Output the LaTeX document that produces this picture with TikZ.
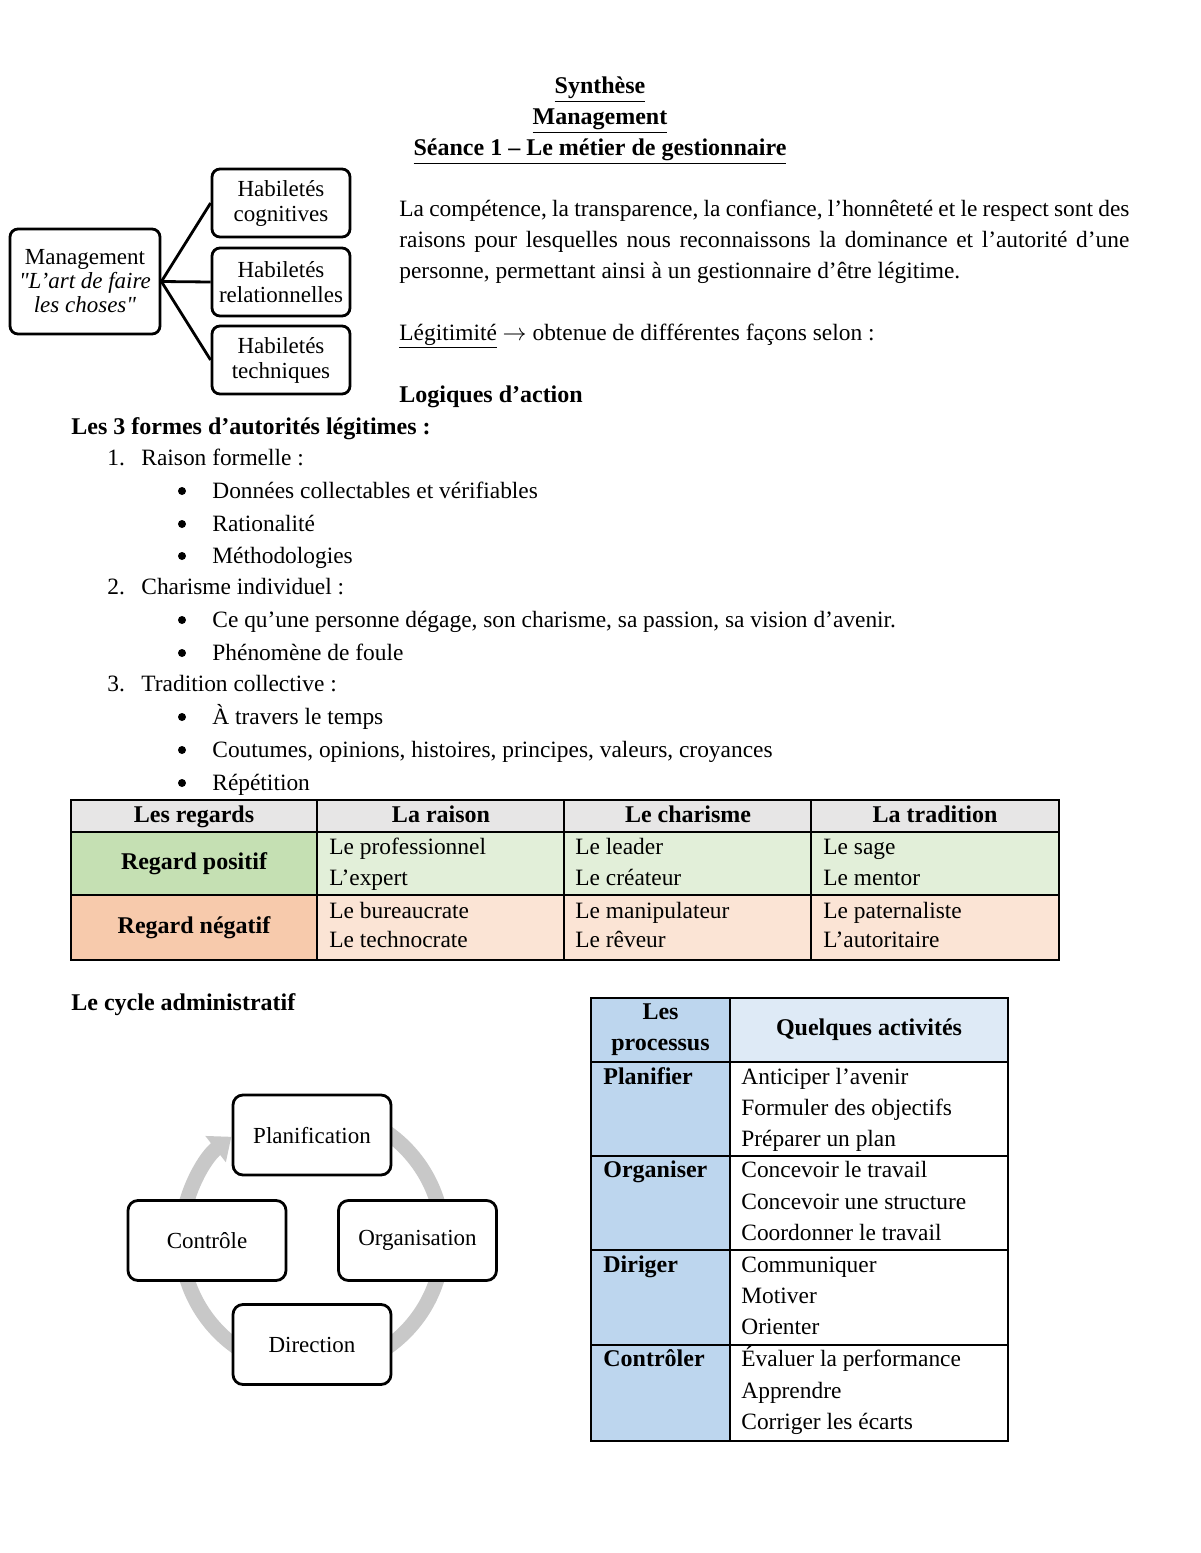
\documentclass[tikz,border=0pt]{standalone}
\usepackage{fontspec}
\setmainfont{Liberation Serif}
\usetikzlibrary{arrows.meta}

\definecolor{hdgray}{HTML}{E7E6E6}
\definecolor{posdark}{HTML}{C5E0B3}
\definecolor{poslight}{HTML}{E2EFD9}
\definecolor{negdark}{HTML}{F7CAAC}
\definecolor{neglight}{HTML}{FBE4D5}
\definecolor{procblue}{HTML}{BDD6EE}
\definecolor{actblue}{HTML}{DEEAF6}
\definecolor{cyclegray}{HTML}{C8C8C8}

\newcommand{\bodyfont}{\fontsize{11.7}{15.5}\selectfont}
\newcommand{\boldfont}{\bfseries\fontsize{12}{15.5}\selectfont}

\tikzset{
  txt/.style={anchor=base west, inner sep=0pt, font=\bodyfont},
  ctxt/.style={anchor=base, inner sep=0pt, font=\bodyfont},
  bulletdot/.style={circle, fill, inner sep=0pt, minimum size=4pt},
  habbox/.style={draw, line width=1.4pt, rounded corners=4pt, align=center,
    minimum width=69pt, minimum height=34pt, inner sep=0pt,
    font=\fontsize{11.5}{12.5}\selectfont},
  cycbox/.style={draw, fill=white, line width=1.4pt, rounded corners=5pt,
    minimum width=79pt, minimum height=40pt, font=\fontsize{11.5}{14}\selectfont},
  tline/.style={line width=0.8pt},
  tlinethick/.style={line width=1.2pt},
}

\begin{document}
\begin{tikzpicture}[x=0.5pt, y=-0.5pt]
\newcommand{\ParW}{365pt};
\newcommand{\CycR}{65.5pt};

% page
\fill[white] (0,0) rectangle (1200,1553);
\useasboundingbox (0,0) rectangle (1200,1553);

% title
\node[ctxt, font=\boldfont] (ttlA) at (600,93) {\underline{Synthèse}};
\node[ctxt, font=\boldfont] (ttlB) at (600,124) {\underline{Management}};
\node[ctxt, font=\boldfont] (ttlC) at (600,155) {\underline{Séance 1 – Le métier de gestionnaire}};

% management + habiletes
\node[habbox, minimum width=75pt, minimum height=52.5pt,
  font=\fontsize{11.5}{12}\selectfont] (mgmt) at (85,281.5)
  {Management\\\textit{\textquotedbl L’art de faire}\\\textit{les choses\textquotedbl}};
\node[habbox] (habA) at (281,203) {Habiletés\\cognitives};
\node[habbox] (habB) at (281,282) {Habiletés\\relationnelles};
\node[habbox] (habC) at (281,360) {Habiletés\\techniques};
\draw[line width=1.4pt] (mgmt.east) -- (habA.west);
\draw[line width=1.4pt] (mgmt.east) -- (habB.west);
\draw[line width=1.4pt] (mgmt.east) -- (habC.west);
%

% text right
\node[txt] (parA) at (399,216) {\makebox[\ParW][s]{La compétence, la transparence, la confiance, l’honnêteté et le respect sont des}};
\node[txt] (parB) at (399,247) {\makebox[\ParW][s]{raisons pour lesquelles nous reconnaissons la dominance et l’autorité d’une}};
\node[txt] (parC) at (399,278) {personne, permettant ainsi à un gestionnaire d’être légitime.};
\node[txt] (legit) at (399,340) {\underline{Légitimité} $\rightarrow$ obtenue de différentes façons selon :};
\node[txt, font=\boldfont] (logiq) at (399,402) {Logiques d’action};

% list
\node[txt, font=\boldfont] (formes) at (71,434) {Les 3 formes d’autorités légitimes :};
\node[txt] (numA) at (107,465) {1.};
\node[txt] (itemA) at (141,465) {Raison formelle :};
\node[txt] (numB) at (107,594) {2.};
\node[txt] (itemB) at (141,594) {Charisme individuel :};
\node[txt] (numC) at (107,691) {3.};
\node[txt] (itemC) at (141,691) {Tradition collective :};
\foreach \y/\t [count=\i] in {498/Données collectables et vérifiables, 531/Rationalité,
    563/Méthodologies, 627/{Ce qu’une personne dégage, son charisme, sa passion, sa vision d’avenir.},
    660/Phénomène de foule, 724/À travers le temps,
    757/{Coutumes, opinions, histoires, principes, valeurs, croyances}, 790/Répétition}{
  \node[bulletdot] (bul\i) at (182,\y-7) {};
  \node[txt] (sub\i) at (212,\y) {\t};
}

% table regards
\fill[hdgray] (71,800) rectangle (1059,832);
\fill[posdark] (71,832) rectangle (317,895);
\fill[poslight] (317,832) rectangle (1059,895);
\fill[negdark] (71,895) rectangle (317,960);
\fill[neglight] (317,895) rectangle (1059,960);
\draw[tline] (71,800) rectangle (1059,960);
\draw[tline] (71,832) -- (1059,832) (71,895) -- (1059,895);
\foreach \x in {317,564,811} \draw[tline] (\x,800) -- (\x,960);
\foreach \x/\t [count=\i] in {194/Les regards, 441/La raison, 688/Le charisme, 935/La tradition}
  \node[ctxt, font=\boldfont] (head\i) at (\x,822) {\t};
\node[ctxt, font=\boldfont] (regpos) at (194,869) {Regard positif};
\node[ctxt, font=\boldfont] (regneg) at (194,933) {Regard négatif};
\foreach \x/\a/\b/\c/\d [count=\i] in {329/Le professionnel/L’expert/Le bureaucrate/Le technocrate,
    575/Le leader/Le créateur/Le manipulateur/Le rêveur,
    823/Le sage/Le mentor/Le paternaliste/L’autoritaire}{
  \node[txt] (posA\i) at (\x,854) {\a};
  \node[txt] (posB\i) at (\x,885) {\b};
  \node[txt] (negA\i) at (\x,918) {\c};
  \node[txt] (negB\i) at (\x,947) {\d};
}

% cycle
\node[txt, font=\boldfont] (cyctl) at (71,1010) {Le cycle administratif};
\draw[cyclegray, line width=7.5pt, -{Triangle[width=16pt,length=10pt]}]
  (312,1240) ++(80:\CycR) arc[start angle=80, end angle=-232, radius=\CycR];
\node[cycbox] (plan) at (312,1135) {Planification};
\node[cycbox] (ctrl) at (207,1240.5) {Contrôle};
\node[cycbox] (orga) at (417.5,1240.5) {Organisation};
\node[cycbox] (dirn) at (312,1344.5) {Direction};
%

% table processus
\fill[procblue] (591,998) rectangle (730,1441);
\fill[actblue] (730,998) rectangle (1008,1062);
\draw[tlinethick] (591,998) rectangle (1008,1441);
\draw[tlinethick] (730,998) -- (730,1441);
\foreach \y in {1062,1156,1250,1345} \draw[tlinethick] (591,\y) -- (1008,\y);
\node[inner sep=0pt, align=center, font=\boldfont] (prochd) at (660.5,1030) {Les\\processus};
\node[inner sep=0pt, font=\boldfont] (acthd) at (869,1030) {Quelques activités};
\foreach \y/\t [count=\i] in {1084/Planifier, 1177/Organiser, 1272/Diriger, 1366/Contrôler}
  \node[txt, font=\boldfont] (proc\i) at (603,\y) {\t};
\foreach \y/\t [count=\i] in {1084/Anticiper l’avenir, 1115/Formuler des objectifs, 1146/Préparer un plan,
    1177/Concevoir le travail, 1209/Concevoir une structure, 1240/Coordonner le travail,
    1272/Communiquer, 1303/Motiver, 1334/Orienter,
    1366/Évaluer la performance, 1398/Apprendre, 1429/Corriger les écarts}
  \node[txt] (act\i) at (741,\y) {\t};
%
\end{tikzpicture}
\end{document}
